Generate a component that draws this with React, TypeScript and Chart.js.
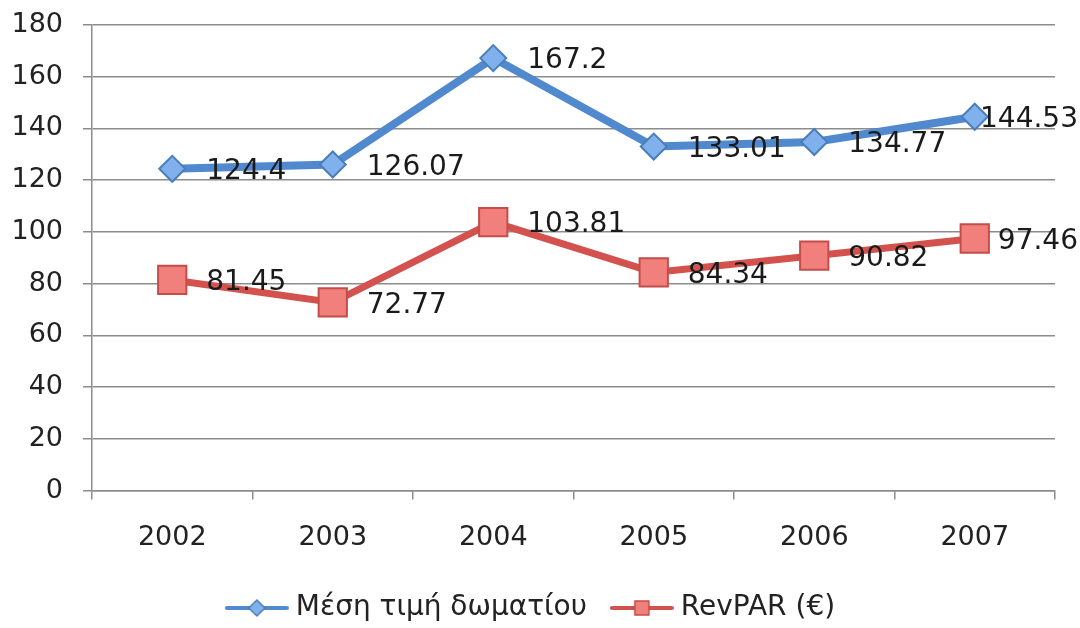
import React, { useEffect, useRef } from "react";
import { Chart, registerables } from "chart.js";

Chart.register(...registerables);

const years = ["2002", "2003", "2004", "2005", "2006", "2007"];
const avgRoomRate = [124.4, 126.07, 167.2, 133.01, 134.77, 144.53];
const revPar = [81.45, 72.77, 103.81, 84.34, 90.82, 97.46];
const seriesNames = ["Μέση τιμή δωματίου", "RevPAR (€)"];
const yTicks = [0, 20, 40, 60, 80, 100, 120, 140, 160, 180];

const FONT = "'DejaVu Sans', Verdana, sans-serif";
const BLUE_LINE = "#5189cf";
const BLUE_FILL = "#80b1ec";
const BLUE_EDGE = "#4a7ebb";
const RED_LINE = "#d4524e";
const RED_FILL = "#f17f7b";
const RED_EDGE = "#c44d49";

function makeIcon(kind: "diamond" | "square"): HTMLCanvasElement {
  const c = document.createElement("canvas");
  c.width = 64;
  c.height = 24;
  const g = c.getContext("2d")!;
  const line = kind === "diamond" ? BLUE_LINE : RED_LINE;
  g.strokeStyle = line;
  g.lineWidth = 4;
  g.lineCap = "round";
  g.beginPath();
  g.moveTo(2, 12);
  g.lineTo(62, 12);
  g.stroke();
  g.lineWidth = 1.5;
  if (kind === "diamond") {
    g.fillStyle = BLUE_FILL;
    g.strokeStyle = BLUE_EDGE;
    g.beginPath();
    g.moveTo(32, 4);
    g.lineTo(40, 12);
    g.lineTo(32, 20);
    g.lineTo(24, 12);
    g.closePath();
    g.fill();
    g.stroke();
  } else {
    g.fillStyle = RED_FILL;
    g.strokeStyle = RED_EDGE;
    g.fillRect(25, 5, 14, 14);
    g.strokeRect(25, 5, 14, 14);
  }
  return c;
}

const valueLabels = {
  id: "valueLabels",
  afterDatasetsDraw(chart: any) {
    const ctx = chart.ctx;
    ctx.save();
    ctx.font = `28px ${FONT}`;
    ctx.fillStyle = "#1a1a1a";
    ctx.textBaseline = "middle";
    ctx.textAlign = "left";
    chart.data.datasets.forEach((ds: any, i: number) => {
      const meta = chart.getDatasetMeta(i);
      meta.data.forEach((pt: any, j: number) => {
        const txt = String(ds.data[j]);
        const w = ctx.measureText(txt).width;
        let x = pt.x + 34;
        if (x + w > chart.width - 2) x = chart.width - 2 - w;
        ctx.fillText(txt, x, pt.y + 3);
      });
    });
    ctx.restore();
  },
};

export default function App() {
  const ref = useRef<HTMLCanvasElement | null>(null);

  useEffect(() => {
    document.body.style.margin = "0";
    const icons = [makeIcon("diamond"), makeIcon("square")];
    const chart = new Chart(ref.current!, {
      type: "line",
      data: {
        labels: years,
        datasets: [
          {
            label: seriesNames[0],
            data: avgRoomRate,
            borderColor: BLUE_LINE,
            borderWidth: 8,
            pointStyle: "rectRot",
            pointRadius: 13,
            pointBackgroundColor: BLUE_FILL,
            pointBorderColor: BLUE_EDGE,
            pointBorderWidth: 2,
            tension: 0,
          },
          {
            label: seriesNames[1],
            data: revPar,
            borderColor: RED_LINE,
            borderWidth: 7,
            pointStyle: "rect",
            pointRadius: 20,
            pointBackgroundColor: RED_FILL,
            pointBorderColor: RED_EDGE,
            pointBorderWidth: 2,
            tension: 0,
          },
        ],
      },
      options: {
        animation: false,
        responsive: true,
        maintainAspectRatio: false,
        layout: { padding: { top: 0, left: 12, right: 25, bottom: -4 } },
        scales: {
          x: {
            offset: true,
            afterFit: (axis: any) => {
              axis.height = axis.height - 12;
            },
            grid: {
              display: true,
              drawOnChartArea: false,
              offset: true,
              tickLength: 9,
              color: "#8c8c8c",
              lineWidth: 1.5,
            },
            border: { display: true, color: "#8c8c8c", width: 1.5 },
            ticks: { font: { family: FONT, size: 27 }, color: "#222", padding: 22 },
          },
          y: {
            min: 0,
            max: 180,
            afterBuildTicks: (axis: any) => {
              axis.ticks = yTicks.map((v) => ({ value: v }));
            },
            afterFit: (axis: any) => {
              axis.width = 80;
              axis.paddingTop = 25;
              axis.paddingBottom = 16;
            },
            grid: { color: "#8c8c8c", lineWidth: 1.5, tickLength: 9 },
            border: { display: true, color: "#8c8c8c", width: 1.5 },
            ticks: { font: { family: FONT, size: 27 }, color: "#222", padding: 20 },
          },
        },
        plugins: {
          tooltip: { enabled: false },
          legend: {
            position: "bottom",
            labels: {
              usePointStyle: true,
              pointStyleWidth: 50,
              padding: 30,
              color: "#222",
              font: { family: FONT, size: 28 },
              generateLabels: (c: any) =>
                c.data.datasets.map((ds: any, i: number) => ({
                  text: ds.label,
                  fillStyle: "transparent",
                  strokeStyle: "transparent",
                  lineWidth: 0,
                  pointStyle: icons[i],
                  hidden: false,
                  datasetIndex: i,
                  fontColor: "#222",
                })),
            },
          },
        },
      },
      plugins: [valueLabels],
    });
    return () => chart.destroy();
  }, []);

  return (
    <div style={{ width: 1080, height: 628, position: "relative" }}>
      <canvas ref={ref} />
    </div>
  );
}
